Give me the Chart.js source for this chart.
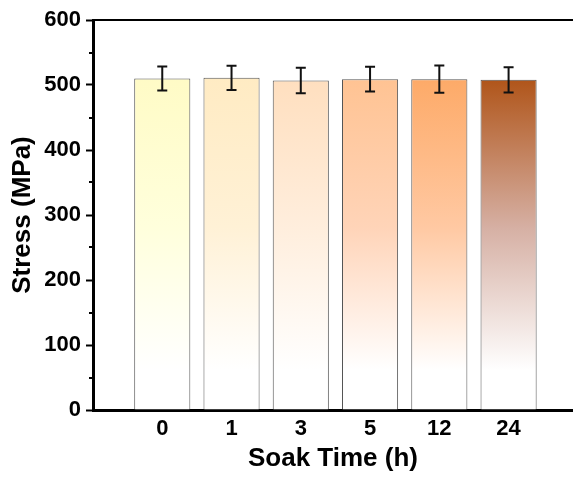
<!DOCTYPE html>
<html>
<head>
<meta charset="utf-8">
<script src="https://cdn.jsdelivr.net/npm/chart.js@4"></script>
<style>
  html, body { margin: 0; padding: 0; background: #fff; }
  #wrap { width: 573px; height: 478px; }
</style>
</head>
<body>
<div id="wrap"><canvas id="stress-chart"></canvas></div>
<script>
const soakTimes = ['0', '1', '3', '5', '12', '24'];
const positions = [1, 2, 3, 4, 5, 6];
const stressMean = [510, 511, 507, 509, 509, 508];
const stressErr = [18.5, 18.5, 19.5, 19, 21, 19.5];
const yTicks = [0, 100, 200, 300, 400, 500, 600];

const topColors = ['#FFFBC6', '#FFEBC3', '#FFDFBF', '#FFC393', '#FDAA68', '#B0551A'];
const midColors = ['#FFFFDC', '#FFF1D6', '#FFEEDD', '#FFD4B8', '#FFC9A3', '#D6B0A4'];
const FONT = 'Liberation Sans, Arial, sans-serif';

const errorBars = {
    id: 'errorBars',
    afterDatasetsDraw(chart) {
        const { ctx, scales: { y } } = chart;
        const meta = chart.getDatasetMeta(0);
        ctx.save();
        ctx.strokeStyle = '#111';
        ctx.lineWidth = 2;
        meta.data.forEach((bar, i) => {
            const hi = y.getPixelForValue(stressMean[i] + stressErr[i]);
            const lo = y.getPixelForValue(stressMean[i] - stressErr[i]);
            ctx.beginPath();
            ctx.moveTo(bar.x, hi); ctx.lineTo(bar.x, lo);
            ctx.moveTo(bar.x - 5, hi); ctx.lineTo(bar.x + 5, hi);
            ctx.moveTo(bar.x - 5, lo); ctx.lineTo(bar.x + 5, lo);
            ctx.stroke();
        });
        ctx.restore();
    }
};

const frame = {
    id: 'frame',
    afterDraw(chart) {
        const { ctx, chartArea: a, scales: { y } } = chart;
        ctx.save();
        ctx.strokeStyle = '#000';
        ctx.lineWidth = 2;
        ctx.beginPath();
        ctx.moveTo(a.left - 1, a.top);
        ctx.lineTo(a.right, a.top);
        ctx.stroke();
        // minor ticks
        for (let v = 50; v < 600; v += 100) {
            const py = Math.round(y.getPixelForValue(v));
            ctx.beginPath();
            ctx.moveTo(a.left - 4, py);
            ctx.lineTo(a.left, py);
            ctx.stroke();
        }
        ctx.restore();
    }
};

function barFill(context) {
    const chart = context.chart;
    const i = context.dataIndex;
    if (!chart.chartArea) return topColors[i];
    const y = chart.scales.y;
    const top = y.getPixelForValue(stressMean[i]);
    const bottom = y.getPixelForValue(0);
    const g = chart.ctx.createLinearGradient(0, top, 0, bottom);
    g.addColorStop(0, topColors[i]);
    g.addColorStop(0.45, midColors[i]);
    g.addColorStop(0.88, '#FFFFFF');
    g.addColorStop(1, '#FFFFFF');
    return g;
}

new Chart(document.getElementById('stress-chart'), {
    type: 'bar',
    data: {
        datasets: [{
            data: positions.map((p, i) => ({ x: p, y: stressMean[i] })),
            backgroundColor: barFill,
            borderColor: '#555',
            borderWidth: 1,
            categoryPercentage: 1,
            barPercentage: 0.81
        }]
    },
    options: {
        responsive: true,
        maintainAspectRatio: false,
        animation: false,
        layout: { padding: { left: 0, top: 20, right: 0, bottom: 0 } },
        plugins: { legend: { display: false }, tooltip: { enabled: false } },
        scales: {
            x: {
                type: 'linear',
                offset: false,
                min: 0,
                max: 6.93,
                afterFit: s => { s.height = 68; },
                afterBuildTicks: s => { s.ticks = positions.map(v => ({ value: v })); },
                grid: { display: false, drawTicks: false, offset: false },
                border: { display: true, color: '#000', width: 3 },
                ticks: {
                    padding: 6,
                    color: '#000',
                    font: { family: FONT, size: 22, weight: 'bold' },
                    autoSkip: false,
                    maxRotation: 0,
                    callback: v => soakTimes[positions.indexOf(v)] ?? ''
                },
                title: {
                    display: true,
                    text: 'Soak Time (h)',
                    color: '#000',
                    font: { family: FONT, size: 26, weight: 'bold' },
                    padding: { top: 0, bottom: 4 }
                }
            },
            y: {
                min: 0,
                max: 600,
                afterFit: s => { s.width = 93; },
                afterBuildTicks: s => { s.ticks = yTicks.map(v => ({ value: v })); },
                grid: { drawOnChartArea: false, drawTicks: true, tickLength: 7, tickWidth: 2, tickColor: '#000' },
                border: { display: true, color: '#000', width: 3 },
                ticks: {
                    padding: 5,
                    color: '#000',
                    font: { family: FONT, size: 22, weight: 'bold' }
                },
                title: {
                    display: true,
                    text: 'Stress (MPa)',
                    color: '#000',
                    font: { family: FONT, size: 26, weight: 'bold' },
                    padding: { top: 7, bottom: 0 }
                }
            }
        }
    },
    plugins: [errorBars, frame]
});
</script>
</body>
</html>
